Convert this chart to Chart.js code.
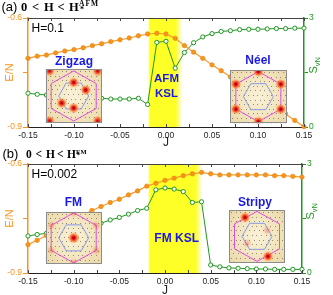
<!DOCTYPE html>
<html>
<head>
<meta charset="utf-8">
<script src="https://cdn.jsdelivr.net/npm/chart.js@4.4.1/dist/chart.umd.min.js"></script>
<style>
  html, body { margin: 0; padding: 0; width: 333px; height: 295px; overflow: hidden; background: #fff; }
  canvas { position: absolute; left: 0; }
  #chartA { top: 0; }
  #chartB { top: 147px; }
</style>
</head>
<body>
<canvas id="chartA" width="333" height="150"></canvas>
<canvas id="chartB" width="333" height="151"></canvas>
<script>
// coupling J (shared by both panels)
const J = [-0.15, -0.14, -0.13, -0.12, -0.11, -0.10, -0.09, -0.08, -0.07, -0.06, -0.05,
           -0.04, -0.03, -0.02, -0.01, 0.00, 0.01, 0.02, 0.03, 0.04, 0.05,
           0.06, 0.07, 0.08, 0.09, 0.10, 0.11, 0.12, 0.13, 0.14, 0.15];

// panel (a), H = 0.1
const energyA = [-0.711, -0.705, -0.702, -0.696, -0.691, -0.687, -0.682, -0.676, -0.671, -0.665, -0.660,
                 -0.655, -0.649, -0.644, -0.642, -0.644, -0.656, -0.676, -0.694, -0.711, -0.729,
                 -0.745, -0.762, -0.779, -0.797, -0.813, -0.830, -0.848, -0.864, -0.882, -0.899];
const entropyA = [0.93, 0.90, 0.88, 0.86, 0.84, 0.82, 0.80, 0.79, 0.79, 0.77, 0.77,
                  0.77, 0.79, 0.62, 2.33, 2.36, 1.62, 2.05, 2.32, 2.48, 2.57,
                  2.63, 2.65, 2.68, 2.69, 2.69, 2.70, 2.71, 2.71, 2.72, 2.72];
const kslBandA = [-0.019, 0.018];

// panel (b), H = 0.002
const energyB = [-0.822, -0.810, -0.797, -0.783, -0.769, -0.756, -0.741, -0.728, -0.717, -0.706, -0.697,
                 -0.685, -0.674, -0.661, -0.653, -0.645, -0.639, -0.632, -0.627, -0.623, -0.627,
                 -0.630, -0.630, -0.630, -0.630, -0.630, -0.630, -0.632, -0.632, -0.634, -0.636];
const entropyB = [1.02, 1.06, 1.09, 1.13, 1.17, 1.21, 1.26, 1.31, 1.37, 1.46, 1.53,
                  1.62, 1.72, 1.78, 2.29, 2.34, 2.31, 2.24, 1.94, 1.96, 0.22,
                  0.17, 0.14, 0.13, 0.12, 0.11, 0.11, 0.10, 0.10, 0.10, 0.10];
const kslBandB = [-0.018, 0.041];

// axis ranges
const jRange = [-0.15, 0.15];
const energyRange = [-0.9, -0.6];
const entropyRange = [0, 3];

const ORANGE = '#f7941d';
const GREEN = '#1e981e';
const BLUE = '#1a1ae6';
const SANS = "'Liberation Sans', Arial, sans-serif";
const SERIF = "'Liberation Serif', 'Times New Roman', serif";

Chart.defaults.font.family = SANS;

function spot(ctx, x, y, r, strength) {
  const g = ctx.createRadialGradient(x, y, 0, x, y, r);
  const a = strength;
  g.addColorStop(0, `rgba(120,0,20,${a})`);
  g.addColorStop(0.25, `rgba(225,15,25,${a})`);
  g.addColorStop(0.6, `rgba(255,100,30,${0.75 * a})`);
  g.addColorStop(1, 'rgba(255,170,70,0)');
  ctx.fillStyle = g;
  ctx.beginPath();
  ctx.arc(x, y, r, 0, Math.PI * 2);
  ctx.fill();
}

function hexPath(ctx, cx, cy, pts) {
  ctx.beginPath();
  pts.forEach((p, i) => i ? ctx.lineTo(cx + p[0], cy + p[1]) : ctx.moveTo(cx + p[0], cy + p[1]));
  ctx.closePath();
}

// Brillouin-zone structure-factor inset
function drawInset(ctx, box, spots) {
  const [x, y, w, h] = box;
  const cx = x + w / 2, cy = y + h / 2;
  ctx.save();
  ctx.beginPath();
  ctx.rect(x, y, w, h);
  ctx.clip();
  const bg = ctx.createRadialGradient(cx, cy, 2, cx, cy, w * 0.75);
  bg.addColorStop(0, '#f9f1d6');
  bg.addColorStop(1, '#ead5a2');
  ctx.fillStyle = bg;
  ctx.fillRect(x, y, w, h);
  ctx.fillStyle = 'rgba(85,75,55,0.6)';
  for (let i = 0; i * 4.6 < w; i++) {
    for (let k = 0; k * 4.6 < h; k++) {
      ctx.fillRect(Math.round(x + 2 + i * 4.6 + (k % 2) * 2.3), Math.round(y + 2 + k * 4.6), 1, 1);
    }
  }
  const outer = [[0, -25], [22.5, -12.5], [22.5, 12.5], [0, 25], [-22.5, 12.5], [-22.5, -12.5]];
  const inner = [[-15, 0], [-7.5, -13], [7.5, -13], [15, 0], [7.5, 13], [-7.5, 13]];
  ctx.lineWidth = 1;
  ctx.strokeStyle = '#e04ee0';
  hexPath(ctx, cx, cy, outer);
  ctx.stroke();
  ctx.strokeStyle = '#8a9be8';
  hexPath(ctx, cx, cy, inner);
  ctx.stroke();
  spots.forEach(s => spot(ctx, cx + s[0], cy + s[1], s[2], s[3]));
  ctx.restore();
  ctx.strokeStyle = '#8c8c8c';
  ctx.lineWidth = 1;
  ctx.strokeRect(Math.round(x) + 0.5, Math.round(y) + 0.5, Math.round(w) - 1, Math.round(h) - 1);
}

function drawTitle(ctx, t) {
  ctx.save();
  ctx.fillStyle = '#000';
  ctx.textBaseline = 'alphabetic';
  ctx.textAlign = 'left';
  ctx.font = `13px ${SANS}`;
  ctx.fillText(t.label[0], t.label[1], t.base);
  ctx.font = `bold ${t.size}px ${SERIF}`;
  t.tokens.forEach(k => ctx.fillText(k[0], k[1], t.base));
  ctx.letterSpacing = t.supSpacing;
  ctx.font = `bold ${t.supSize}px ${SERIF}`;
  ctx.fillText(t.sup[0], t.sup[1], t.sup[2]);
  ctx.letterSpacing = '0px';
  ctx.font = `bold ${t.size * 0.65}px ${SERIF}`;
  ctx.fillText(t.sub[0], t.sub[1], t.sub[2]);
  ctx.restore();
}

function decor(cfg) {
  return {
    id: 'decor',
    beforeDatasetsDraw(chart) {
      const { ctx, chartArea: a, scales: { x } } = chart;
      const x0 = x.getPixelForValue(cfg.band[0]);
      const x1 = x.getPixelForValue(cfg.band[1]);
      const g = ctx.createLinearGradient(x0, 0, x1, 0);
      const f = 7 / (x1 - x0);
      g.addColorStop(0, 'rgba(255,255,40,0.55)');
      g.addColorStop(1.5 / (x1 - x0), 'rgba(255,255,40,1)');
      g.addColorStop(1 - f, 'rgba(255,255,40,1)');
      g.addColorStop(1, 'rgba(255,255,40,0)');
      ctx.save();
      ctx.fillStyle = g;
      ctx.fillRect(x0, a.top, x1 - x0, a.bottom - a.top);
      ctx.restore();
    },
    afterDraw(chart) {
      const { ctx, chartArea: a, scales: { x } } = chart;
      ctx.save();
      // frame top + inward J ticks
      ctx.strokeStyle = '#444';
      ctx.lineWidth = 1;
      ctx.beginPath();
      ctx.moveTo(a.left, Math.round(a.top) + 0.5);
      ctx.lineTo(a.right, Math.round(a.top) + 0.5);
      x.ticks.forEach(t => {
        const px = Math.round(x.getPixelForValue(t.value)) + 0.5;
        ctx.moveTo(px, a.top);
        ctx.lineTo(px, a.top + 3);
        ctx.moveTo(px, a.bottom);
        ctx.lineTo(px, a.bottom - 3);
      });
      ctx.stroke();

      cfg.insets.forEach(ins => drawInset(ctx, ins.box, ins.spots));

      ctx.textAlign = 'center';
      ctx.textBaseline = 'middle';
      ctx.fillStyle = BLUE;
      cfg.labels.forEach(l => {
        ctx.font = `bold ${l[3]}px ${SANS}`;
        ctx.fillText(l[0], l[1], l[2]);
      });

      ctx.fillStyle = '#000';
      ctx.textAlign = 'left';
      ctx.font = `12px ${SANS}`;
      ctx.fillText(cfg.field, a.left + 3.5, a.top + 11);

      // S_vN axis title, rotated
      ctx.fillStyle = GREEN;
      ctx.translate(a.right + cfg.sOffset, (a.top + a.bottom) / 2 + 1);
      ctx.rotate(-Math.PI / 2);
      ctx.textBaseline = 'alphabetic';
      ctx.font = `11px ${SANS}`;
      ctx.fillText('S', 0, 0);
      const wS = ctx.measureText('S').width;
      ctx.font = `7.5px ${SANS}`;
      ctx.fillText('vN', wS, 2.5);
      ctx.restore();

      drawTitle(ctx, cfg.title);
    }
  };
}

function buildPanel(id, cfg) {
  return new Chart(document.getElementById(id), {
    type: 'line',
    data: {
      datasets: [
        {
          label: 'E/N',
          data: J.map((j, i) => ({ x: j, y: cfg.energy[i] })),
          yAxisID: 'yE',
          borderColor: '#f89a2a',
          borderWidth: 1.2,
          pointRadius: 2.2,
          pointBackgroundColor: ORANGE,
          pointBorderColor: '#e8860f',
          pointBorderWidth: 0.7,
          tension: 0,
          clip: false
        },
        {
          label: 'S_vN',
          data: J.map((j, i) => ({ x: j, y: cfg.entropy[i] })),
          yAxisID: 'yS',
          borderColor: GREEN,
          borderWidth: 1,
          pointRadius: 2.1,
          pointBackgroundColor: '#fff',
          pointBorderColor: GREEN,
          pointBorderWidth: 1,
          tension: 0,
          clip: false
        }
      ]
    },
    options: {
      responsive: false,
      animation: false,
      layout: { padding: { top: cfg.top, left: 0, right: 0, bottom: 0 } },
      plugins: { legend: { display: false }, tooltip: { enabled: false } },
      scales: {
        x: {
          type: 'linear',
          min: jRange[0],
          max: jRange[1],
          afterFit: s => { s.height = cfg.xHeight; },
          ticks: {
            stepSize: 0.025,
            padding: 4,
            color: '#222',
            font: { size: 8.5 },
            maxRotation: 0,
            autoSkip: false,
            callback: v => Math.round(v * 40) % 2 === 0 ? (Math.round(v * 100) / 100).toFixed(2) : ''
          },
          grid: { drawOnChartArea: false, drawTicks: false },
          border: { color: '#222', width: 1 },
          title: { display: true, text: 'J', color: '#222', font: { size: 12 }, padding: { top: 0, bottom: 0 } }
        },
        yE: {
          type: 'linear',
          position: 'left',
          min: energyRange[0],
          max: energyRange[1],
          afterFit: s => { s.width = 28; },
          ticks: {
            stepSize: 0.15,
            padding: 1,
            color: ORANGE,
            font: { size: 8.5 },
            callback: v => Math.abs(v + 0.75) < 1e-6 ? '' : v.toFixed(1)
          },
          grid: { drawOnChartArea: false, color: ORANGE, tickLength: 5 },
          border: { color: ORANGE, width: 1.5 },
          title: { display: true, text: 'E/N', color: ORANGE, font: { size: 11 }, padding: { top: 3, bottom: 0 } }
        },
        yS: {
          type: 'linear',
          position: 'right',
          min: entropyRange[0],
          max: entropyRange[1],
          afterFit: s => { s.width = cfg.rightWidth; },
          ticks: {
            stepSize: 1.5,
            padding: 1,
            color: GREEN,
            font: { size: 8.5 },
            callback: v => v === 1.5 ? '' : String(v)
          },
          grid: { drawOnChartArea: false, color: GREEN, tickLength: 4 },
          border: { color: GREEN, width: 1.5 }
        }
      }
    },
    plugins: [decor(cfg)]
  });
}

buildPanel('chartA', {
  energy: energyA,
  entropy: entropyA,
  band: kslBandA,
  top: 18,
  xHeight: 23,
  rightWidth: 29,
  sOffset: 13,
  field: 'H=0.1',
  insets: [
    { box: [45.7, 69, 56, 54],
      spots: [[0, -13.5, 5.5, 1], [12, -6, 5.5, 1], [-12, 7, 5.5, 1], [0, 12, 5.5, 1],
              [-24, -25, 5.5, 0.9], [24, -25, 5.5, 0.9], [-24, 25, 5.5, 0.9], [24, 25, 5.5, 0.9]] },
    { box: [230, 70, 56.7, 53.3],
      spots: [[0, -25, 5.5, 1], [22.5, -12.5, 5.5, 1], [22.5, 12.5, 5.5, 1],
              [0, 25, 5.5, 1], [-22.5, 12.5, 5.5, 1], [-22.5, -12.5, 5.5, 1]] }
  ],
  labels: [['Zigzag', 74, 62, 12], ['N\u00e9el', 258, 61, 12], ['AFM', 166.5, 78.5, 11.5], ['KSL', 166.5, 93.5, 11.5]],
  title: {
    label: ['(a)', 1.5], base: 11, size: 12.5,
    tokens: [['0', 21], ['<', 32], ['H', 44], ['<', 57.5], ['H', 69]],
    sup: ['AFM', 79, 6.3], supSize: 7.5, supSpacing: '1px',
    sub: ['*', 80, 12]
  }
});

buildPanel('chartB', {
  energy: energyB,
  entropy: entropyB,
  band: kslBandB,
  top: 17,
  xHeight: 25,
  rightWidth: 31,
  sOffset: 12,
  field: 'H=0.002',
  insets: [
    { box: [45.7, 64.7, 56, 52.3],
      spots: [[0, 0, 6, 1], [0, -25, 5, 0.25], [22.5, -12.5, 5, 0.25], [22.5, 12.5, 5, 0.25],
              [0, 25, 5, 0.25], [-22.5, 12.5, 5, 0.25], [-22.5, -12.5, 5, 0.25]] },
    { box: [229, 63, 56, 52.7],
      spots: [[-12, -19, 5.5, 1], [11, 20, 5.5, 1], [10, -6, 5, 0.25], [-10, 7, 5, 0.25]] }
  ],
  labels: [['FM', 73.3, 55.7, 12], ['Stripy', 255, 55.7, 12], ['FM KSL', 176.7, 92, 12]],
  title: {
    label: ['(b)', 2.5], base: 10.5, size: 11.5,
    tokens: [['0', 26], ['<', 35.5], ['H', 46], ['<', 57], ['H', 67]],
    sup: ['FM', 76, 6.5], supSize: 6.5, supSpacing: '0.5px',
    sub: ['*', 76.5, 10.5]
  }
});
</script>
</body>
</html>
